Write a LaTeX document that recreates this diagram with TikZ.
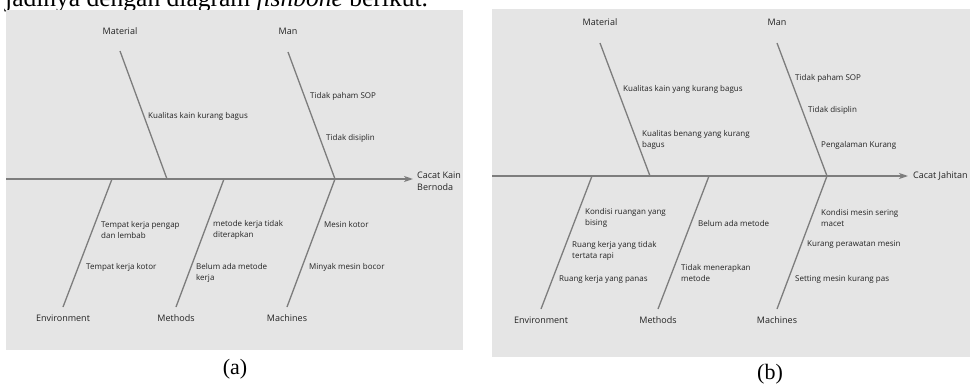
\documentclass[tikz,border=0pt]{standalone}
\usepackage{fontspec}
\setmainfont{Liberation Serif}
\newfontfamily\lblfont{Open Sans}
\usetikzlibrary{arrows.meta}
\definecolor{bgc}{RGB}{229,229,229}
\definecolor{bonec}{RGB}{125,125,125}
\definecolor{txtc}{RGB}{35,35,35}
\tikzset{
 lbl/.style={font=\lblfont\fontsize{8}{11}\selectfont, text=txtc, inner sep=0pt, anchor=west, align=left},
 cat/.style={font=\lblfont\fontsize{9}{12}\selectfont, text=txtc, inner sep=0pt},
 efflbl/.style={font=\lblfont\fontsize{9}{12}\selectfont, text=txtc, inner sep=0pt, anchor=west, align=left},
 bone/.style={draw=bonec, line width=1.3pt},
 spine/.style={draw=bonec, line width=2pt, -{Stealth[length=9pt,width=6pt,inset=2.5pt]}},
 panel/.style={fill=bgc, draw=none},
 captxt/.style={font=\fontsize{22}{24}\selectfont, inner sep=0pt, anchor=base},
}
\begin{document}
\begin{tikzpicture}[x=1pt,y=-1pt]
\useasboundingbox (0,0) rectangle (972,383);
\node[anchor=base west, inner sep=0pt, font=\fontsize{25.5}{28}\selectfont] (intro) at (5,6) {jadinya dengan diagram \textit{fishbone} berikut.};
% ---------------- panel (a)
\fill[panel] (6,10) rectangle (463,350);
\coordinate (aL) at (6,179);
\coordinate (aT) at (413,179);
\draw[spine] (aL) -- (aT);
\node[efflbl] (aeff) at (417,181) {Cacat Kain\\Bernoda};
\node[cat] (amat) at (120,31) {Material};
\node[cat] (aman) at (288,31) {Man};
\node[cat] (aenv) at (63,318) {Environment};
\node[cat] (amet) at (176,318) {Methods};
\node[cat] (amac) at (287,318) {Machines};
\coordinate (amat1) at (120,51); \coordinate (amat2) at (167,179);
\coordinate (aman1) at (288,52); \coordinate (aman2) at (335,179);
\coordinate (aenv1) at (112,179); \coordinate (aenv2) at (63,307);
\coordinate (amet1) at (224,179); \coordinate (amet2) at (176,307);
\coordinate (amac1) at (335,179); \coordinate (amac2) at (287,307);
\draw[bone] (amat1) -- (amat2);
\draw[bone] (aman1) -- (aman2);
\draw[bone] (aenv1) -- (aenv2);
\draw[bone] (amet1) -- (amet2);
\draw[bone] (amac1) -- (amac2);
\node[lbl] (a1) at (148,116) {Kualitas kain kurang bagus};
\node[lbl] (a2) at (310,96) {Tidak paham SOP};
\node[lbl] (a3) at (326,138) {Tidak disiplin};
\node[lbl] (a4) at (101,230) {Tempat kerja pengap\\dan lembab};
\node[lbl] (a5) at (86,267) {Tempat kerja kotor};
\node[lbl] (a6) at (213,230) {metode kerja tidak\\diterapkan};
\node[lbl] (a7) at (196,272.5) {Belum ada metode\\kerja};
\node[lbl] (a8) at (324,224) {Mesin kotor};
\node[lbl] (a9) at (309,267) {Minyak mesin bocor};
\node[captxt] (capa) at (235,374) {(a)};
% ---------------- panel (b)
\fill[panel] (492,9) rectangle (970,357);
\coordinate (bL) at (492,176);
\coordinate (bT) at (908,176);
\draw[spine] (bL) -- (bT);
\node[efflbl] (beff) at (913,176) {Cacat Jahitan};
\node[cat] (bmat) at (600,22) {Material};
\node[cat] (bman) at (777,22) {Man};
\node[cat] (benv) at (541,320) {Environment};
\node[cat] (bmet) at (658,320) {Methods};
\node[cat] (bmac) at (777,320) {Machines};
\coordinate (bmat1) at (600,43); \coordinate (bmat2) at (650,176);
\coordinate (bman1) at (777,43); \coordinate (bman2) at (827,176);
\coordinate (benv1) at (592,176); \coordinate (benv2) at (541,309);
\coordinate (bmet1) at (709,176); \coordinate (bmet2) at (658,309);
\coordinate (bmac1) at (827,176); \coordinate (bmac2) at (777,309);
\draw[bone] (bmat1) -- (bmat2);
\draw[bone] (bman1) -- (bman2);
\draw[bone] (benv1) -- (benv2);
\draw[bone] (bmet1) -- (bmet2);
\draw[bone] (bmac1) -- (bmac2);
\node[lbl] (b1) at (623,89) {Kualitas kain yang kurang bagus};
\node[lbl] (b2) at (642,139.5) {Kualitas benang yang kurang\\bagus};
\node[lbl] (b3) at (795,78) {Tidak paham SOP};
\node[lbl] (b4) at (808,110) {Tidak disiplin};
\node[lbl] (b5) at (821,145) {Pengalaman Kurang};
\node[lbl] (b6) at (585,217.5) {Kondisi ruangan yang\\bising};
\node[lbl] (b7) at (572,251) {Ruang kerja yang tidak\\tertata rapi};
\node[lbl] (b8) at (559,279) {Ruang kerja yang panas};
\node[lbl] (b9) at (698,223) {Belum ada metode};
\node[lbl] (b10) at (681,273) {Tidak menerapkan\\metode};
\node[lbl] (b11) at (821,217.5) {Kondisi mesin sering\\macet};
\node[lbl] (b12) at (807,245) {Kurang perawatan mesin};
\node[lbl] (b13) at (795,279) {Setting mesin kurang pas};
\node[captxt] (capb) at (770,379) {(b)};
\end{tikzpicture}
\end{document}
